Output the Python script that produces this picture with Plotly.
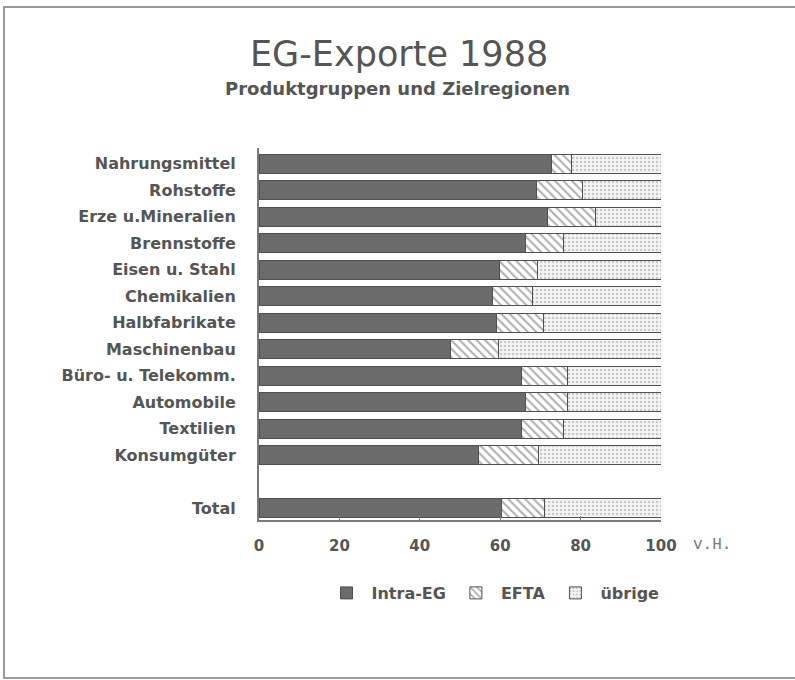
import plotly.graph_objects as go

# Produktgruppen (Total separat mit Lücke darüber)
categories = [
    "Nahrungsmittel", "Rohstoffe", "Erze u.Mineralien", "Brennstoffe",
    "Eisen u. Stahl", "Chemikalien", "Halbfabrikate", "Maschinenbau",
    "Büro- u. Telekomm.", "Automobile", "Textilien", "Konsumgüter", "Total",
]
positions = [0, 1, 2, 3, 4, 5, 6, 7, 8, 9, 10, 11, 13]

intra_eg = [72.8, 69.0, 71.7, 66.2, 59.8, 58.1, 59.2, 47.6, 65.4, 66.4, 65.4, 54.5, 60.3]
efta = [5.0, 11.5, 12.0, 9.5, 9.5, 10.0, 11.5, 12.0, 11.3, 10.3, 10.3, 15.0, 10.8]
uebrige = [22.2, 19.5, 16.3, 24.3, 30.7, 31.9, 29.3, 40.4, 23.3, 23.3, 24.3, 30.5, 28.9]

x_ticks = [0, 20, 40, 60, 80, 100]

W, H = 795, 680
L, T = 259, 148
PLOT_W, PLOT_H = 402, 372
R, B = W - L - PLOT_W, H - T - PLOT_H
TEXT = "#555555"
FONT = "DejaVu Sans"


def px_x(p):
    # page pixel -> paper x
    return (p - L) / PLOT_W


def px_y(p):
    # page pixel -> paper y
    return (T + PLOT_H - p) / PLOT_H


fig = go.Figure()
fig.add_trace(go.Bar(
    y=positions, x=intra_eg, orientation="h", name="Intra-EG",
    marker=dict(color="#6b6b6b", line=dict(color="#505050", width=1)),
    width=0.72,
))
fig.add_trace(go.Bar(
    y=positions, x=efta, orientation="h", name="EFTA",
    marker=dict(color="#ffffff", line=dict(color="#505050", width=1),
                pattern=dict(shape="\\", fgcolor="#606060", bgcolor="#ffffff",
                             size=6, solidity=0.35)),
    width=0.72,
))
fig.add_trace(go.Bar(
    y=positions, x=uebrige, orientation="h", name="übrige",
    marker=dict(color="#f2f2f2", line=dict(color="#505050", width=1),
                pattern=dict(shape=".", fgcolor="#9a9a9a", bgcolor="#f4f4f4",
                             size=4, solidity=0.3)),
    width=0.72,
))

fig.update_layout(
    width=W, height=H,
    margin=dict(l=L, r=R, t=T, b=B),
    barmode="stack",
    paper_bgcolor="white",
    plot_bgcolor="white",
    font=dict(family=FONT, color=TEXT),
    showlegend=True,
    legend=dict(
        orientation="h", traceorder="normal",
        x=px_x(493), y=px_y(593), xanchor="center", yanchor="middle",
        font=dict(family=FONT, size=16, color=TEXT, weight="bold"),
        itemwidth=40,
    ),
)
fig.update_xaxes(
    range=[0, 100], tickvals=x_ticks, showgrid=False, zeroline=False,
    showline=True, linecolor="#7a7a7a", linewidth=2,
    ticks="inside", ticklen=4, tickcolor="#7a7a7a",
    tickfont=dict(family=FONT, size=15, color=TEXT, weight="bold"),
    ticklabelstandoff=11,
)
fig.update_yaxes(
    range=[13.45, -0.6], tickvals=positions, ticktext=categories,
    showgrid=False, zeroline=False,
    showline=True, linecolor="#7a7a7a", linewidth=2,
    ticks="", ticklabelstandoff=18,
    tickfont=dict(family=FONT, size=16, color=TEXT, weight="bold"),
)

fig.add_annotation(
    text="EG-Exporte 1988", xref="paper", yref="paper",
    x=px_x(399), y=px_y(54), xanchor="center", yanchor="middle",
    showarrow=False, font=dict(family=FONT, size=35, color=TEXT),
)
fig.add_annotation(
    text="Produktgruppen und Zielregionen", xref="paper", yref="paper",
    x=px_x(397), y=px_y(89), xanchor="center", yanchor="middle",
    showarrow=False, font=dict(family=FONT, size=18, color=TEXT, weight="bold"),
)
fig.add_annotation(
    text="v.H.", xref="paper", yref="paper",
    x=px_x(712), y=px_y(545), xanchor="center", yanchor="middle",
    showarrow=False, font=dict(family="Liberation Mono", size=16, color="#777777"),
)

# Rahmen um die Seite (rechts offen, wie im Scan)
fig.add_shape(
    type="rect", xref="paper", yref="paper",
    x0=px_x(4), x1=px_x(805), y0=px_y(678), y1=px_y(7),
    line=dict(color="#9a9a9a", width=2), layer="below",
)

# drop the default body margin so the figure sits at the page origin
fig.write_html(
    "out.html",
    config={"displayModeBar": False},
    post_script="document.body.style.margin = '0';",
)
